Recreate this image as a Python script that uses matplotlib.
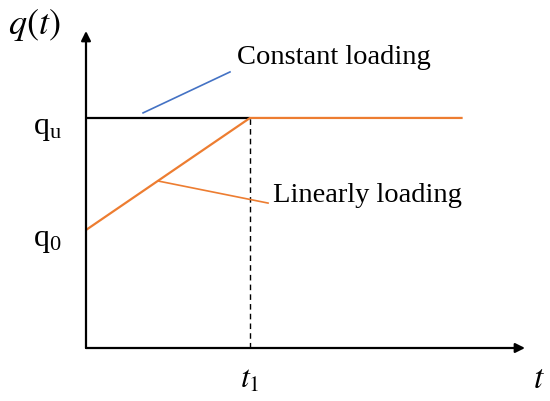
import matplotlib
matplotlib.use("Agg")
import matplotlib.pyplot as plt

plt.rcParams['font.family'] = ['Liberation Serif', 'DejaVu Serif']
plt.rcParams['mathtext.fontset'] = 'stix'

# load histories (t in units of t1, q in units of qu)
t_const = [0.0, 1.0]
q_const = [1.0, 1.0]
t_linear = [0.0, 1.0, 2.29]
q_linear = [0.513, 1.0, 1.0]
t1 = 1.0
q_u = 1.0
q_0 = 0.513

# callout leader lines
lead_const_t = [0.348, 0.878]
lead_const_q = [1.022, 1.2]
lead_lin_t = [0.439, 1.11]
lead_lin_q = [0.726, 0.63]

black = '#000000'
blue = '#4472C4'
orange = '#ED7D31'

fig = plt.figure(figsize=(5.5, 4.01), dpi=100)
ax = fig.add_axes([86 / 550, 53 / 401, 439 / 550, 317 / 401])
ax.set_xlim(0, 2.677)
ax.set_ylim(0, 1.378)
ax.axis('off')

# axes with arrow heads
arrow = dict(arrowstyle='-|>', color=black, lw=1.6, mutation_scale=14, shrinkA=0, shrinkB=0)
ax.annotate('', xy=(1, 0), xytext=(0, 0), xycoords='axes fraction', arrowprops=arrow)
ax.annotate('', xy=(0, 1), xytext=(0, 0), xycoords='axes fraction', arrowprops=arrow)

ax.plot(t_const, q_const, color=black, lw=1.6, solid_capstyle='butt')
ax.plot(t_linear, q_linear, color=orange, lw=1.6)
ax.plot([t1, t1], [0, q_u], color=black, lw=1, ls=(0, (4, 3)))

# callouts
ax.plot(lead_const_t, lead_const_q, color=blue, lw=1.2)
ax.plot(lead_lin_t, lead_lin_q, color=orange, lw=1.2)
ax.text(0.92, 1.261, 'Constant loading', fontsize=20.5, va='center', ha='left')
ax.text(1.14, 0.661, 'Linearly loading', fontsize=20.5, va='center', ha='left')

# labels
ax.text(-0.145, q_u - 0.045, r'q$_\mathregular{u}$', fontsize=23, ha='right', va='center')
ax.text(-0.145, q_0 - 0.045, r'q$_\mathregular{0}$', fontsize=23, ha='right', va='center')
ax.text(t1, -0.14, r'$t_1$', fontsize=23, ha='center', va='center')
ax.text(2.76, -0.14, r'$t$', fontsize=24, ha='center', va='center', clip_on=False)
fig.text(34 / 550, 1 - 25 / 401, r'$q(t)$', fontsize=26, ha='center', va='center')

fig.savefig('out.png', dpi=100)
